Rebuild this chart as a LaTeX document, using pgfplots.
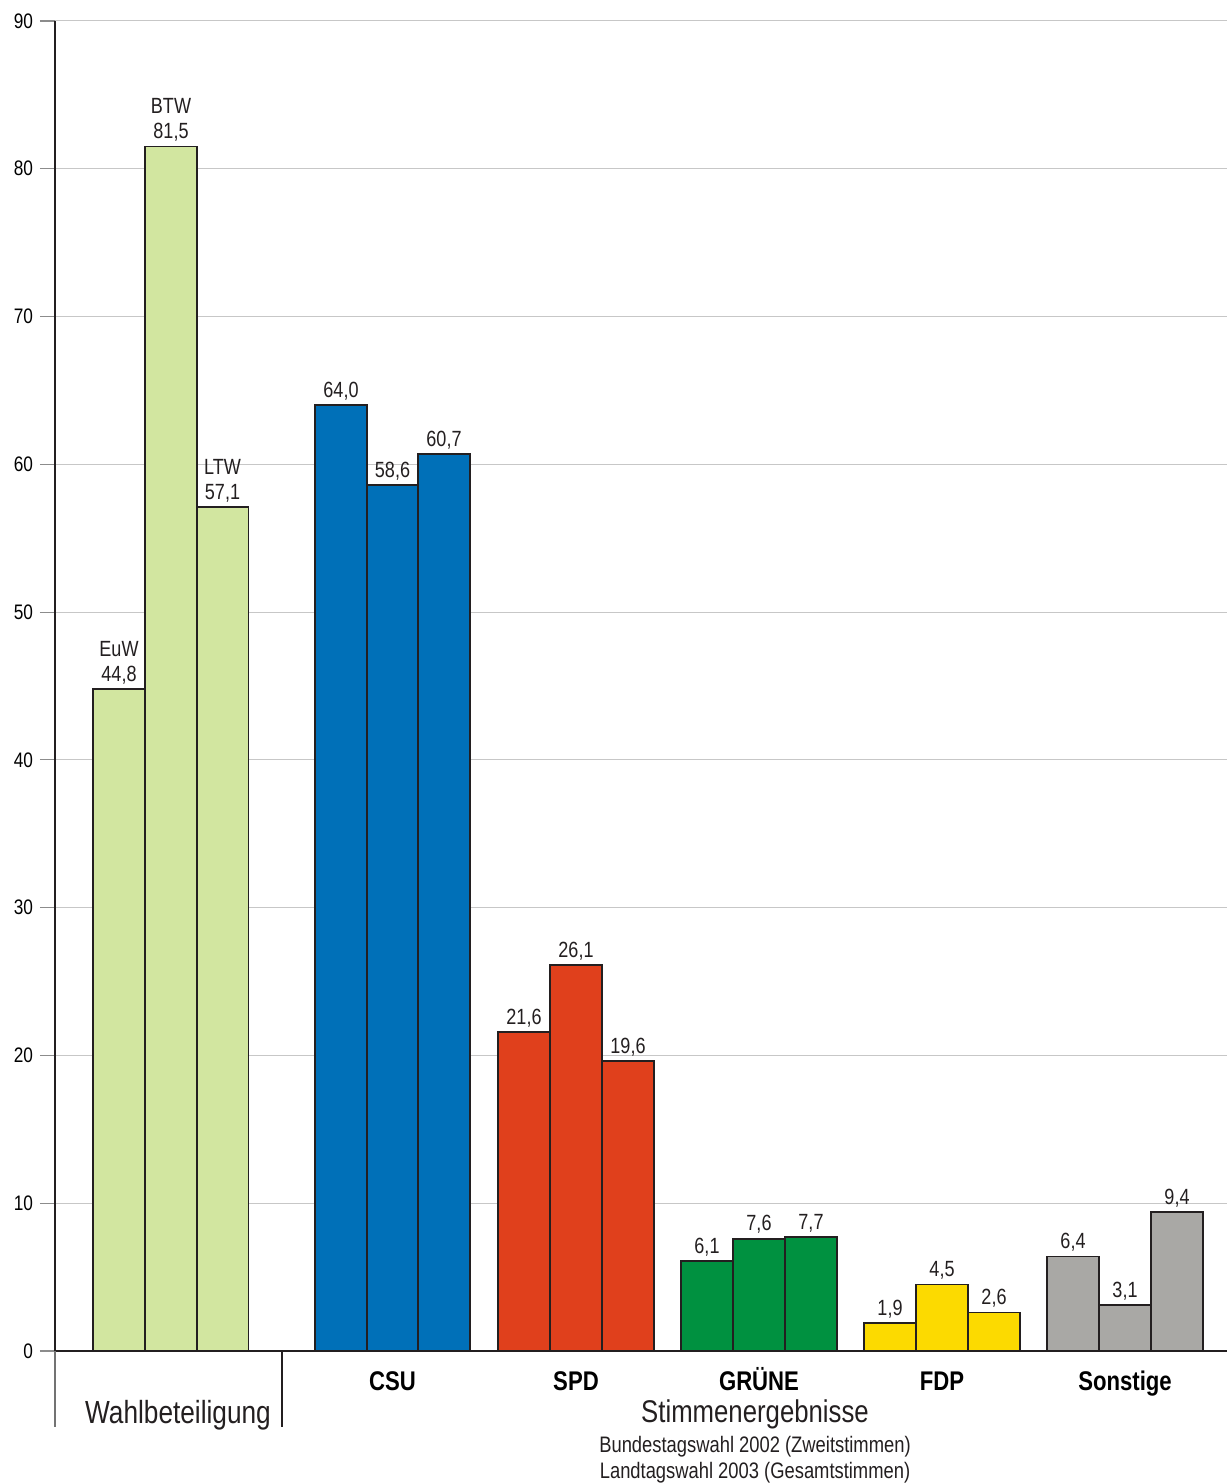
\documentclass[border=0pt]{standalone}
\usepackage{fontspec}
\setmainfont{Liberation Sans}[FakeStretch=0.82]
\usepackage{pgfplots}
\pgfplotsset{compat=1.18}

\definecolor{cwahl}{RGB}{210,230,160}
\definecolor{ccsu}{RGB}{0,112,184}
\definecolor{cspd}{RGB}{224,64,28}
\definecolor{cgruen}{RGB}{0,145,64}
\definecolor{cfdp}{RGB}{252,218,0}
\definecolor{csonst}{RGB}{169,168,165}
\definecolor{edge}{RGB}{35,31,32}

\begin{document}
\begin{tikzpicture}
\begin{axis}[
    x=0.5pt, y=7.38889pt,
    xmin=55, xmax=1227,
    ymin=0, ymax=90,
    axis x line*=bottom,
    axis y line*=left,
    axis line style={-, draw=edge, line width=1pt},
    ytick={0,10,...,90},
    ymajorgrids,
    grid style={draw=black!22, line width=0.5pt},
    tick align=outside,
    major tick length=7.5pt,
    ytick style={draw=black!45, line width=0.6pt},
    xtick={392.5,576,759,942,1125},
    xticklabels={CSU,SPD,GRÜNE,FDP,Sonstige},
    xtick style={draw=none},
    xticklabel style={font=\fontsize{13.5}{14}\selectfont\bfseries, anchor=base, yshift=-12pt},
    yticklabel style={font=\fontsize{10.5}{12}\selectfont},
    /pgf/number format/assume math mode=true,
    ybar,
    bar width=26pt,
    bar shift=0pt,
    clip=false,
    point meta=explicit symbolic,
    nodes near coords,
    every node near coord/.append style={font=\fontsize{11}{12.5}\selectfont, align=center, inner sep=2pt, text=edge},
    every axis plot/.append style={draw=edge, line width=0.9pt},
]
\addplot[fill=cwahl] coordinates {
    (119,44.8) [EuW\\44,8]
    (171,81.5) [BTW\\81,5]
    (222.5,57.1) [LTW\\57,1]
};
\addplot[fill=ccsu] coordinates {
    (341,64.0) [64,0]
    (392.5,58.6) [58,6]
    (444,60.7) [60,7]
};
\addplot[fill=cspd] coordinates {
    (524,21.6) [21,6]
    (576,26.1) [26,1]
    (628,19.6) [19,6]
};
\addplot[fill=cgruen] coordinates {
    (707,6.1) [6,1]
    (759,7.6) [7,6]
    (811,7.7) [7,7]
};
\addplot[fill=cfdp] coordinates {
    (890,1.9) [1,9]
    (942,4.5) [4,5]
    (994,2.6) [2,6]
};
\addplot[fill=csonst] coordinates {
    (1073,6.4) [6,4]
    (1125,3.1) [3,1]
    (1177,9.4) [9,4]
};
\end{axis}
% separators and group captions below the axis
\draw[black!55, line width=0.6pt] (0pt,0pt) -- (0pt,-38pt);
\draw[edge, line width=0.6pt] (113.5pt,0pt) -- (113.5pt,-38pt);
\node[anchor=base, font=\fontsize{16}{18}\selectfont, text=edge] at (61.5pt,-36.5pt) {Wahlbeteiligung};
\node[anchor=base, font=\fontsize{15.7}{18}\selectfont, text=edge] at (350pt,-36pt) {Stimmenergebnisse};
\node[anchor=base, font=\fontsize{11.2}{12}\selectfont, text=edge] at (350pt,-51pt) {Bundestagswahl 2002 (Zweitstimmen)};
\node[anchor=base, font=\fontsize{11.2}{12}\selectfont, text=edge] at (350pt,-63.5pt) {Landtagswahl 2003 (Gesamtstimmen)};
\pgfresetboundingbox
\useasboundingbox (-27.5pt,-66pt) rectangle (586pt,675.5pt);
\end{tikzpicture}
\end{document}
